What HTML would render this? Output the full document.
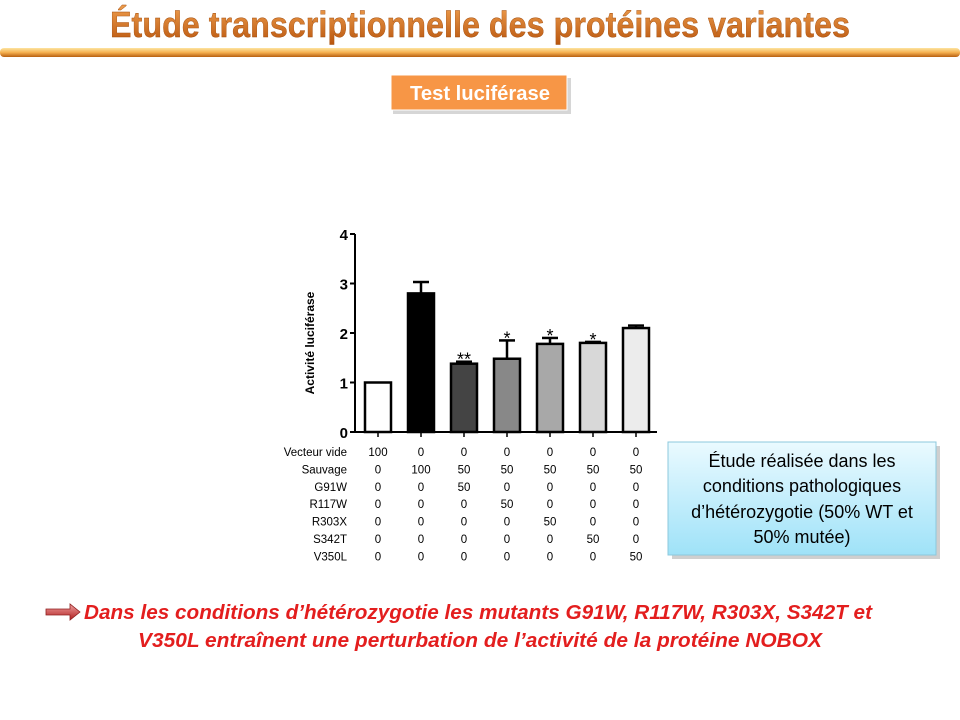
<!DOCTYPE html>
<html><head><meta charset="utf-8"><style>
body{margin:0;background:#fff;}
svg{display:block;font-family:"Liberation Sans",sans-serif;}
</style></head><body>
<svg id="s" width="960" height="720" viewBox="0 0 960 720">
<defs>
<linearGradient id="tg" x1="0" y1="0" x2="0" y2="1"><stop offset="0" stop-color="#f0a050"/><stop offset="1" stop-color="#b8540c"/></linearGradient>
<linearGradient id="lg" x1="0" y1="0" x2="0" y2="1"><stop offset="0" stop-color="#fde4a0"/><stop offset="0.5" stop-color="#f5b050"/><stop offset="1" stop-color="#b86010"/></linearGradient>
<linearGradient id="bg" x1="0" y1="0" x2="0" y2="1"><stop offset="0" stop-color="#eafaff"/><stop offset="1" stop-color="#9fe2f8"/></linearGradient>
<linearGradient id="ag" x1="0" y1="0" x2="0" y2="1"><stop offset="0" stop-color="#f0a0a0"/><stop offset="1" stop-color="#b02020"/></linearGradient>
</defs>
<text x="110" y="37" textLength="740" lengthAdjust="spacingAndGlyphs" font-size="36" font-weight="bold" fill="url(#tg)" stroke="#a04a0a" stroke-width="0.4">Étude transcriptionnelle des protéines variantes</text>
<rect x="0" y="48" width="960" height="9" rx="4" fill="url(#lg)"/>
<rect x="393" y="78" width="178" height="36" fill="#bbb" opacity="0.6"/>
<rect x="391" y="75" width="176" height="35" fill="#f79646" stroke="#fff" stroke-width="1"/>
<text x="410" y="100" textLength="140" lengthAdjust="spacingAndGlyphs" font-size="20" font-weight="bold" fill="#fff">Test luciférase</text>
<g id="chart"></g>
<rect x="672" y="446" width="268" height="113" fill="#888" opacity="0.4"/>
<rect x="668" y="442" width="268" height="113" fill="url(#bg)" stroke="#8cc8dc"/>
<g font-size="18" text-anchor="middle" fill="#000">
<text x="802" y="467">Étude réalisée dans les</text>
<text x="802" y="492">conditions pathologiques</text>
<text x="802" y="518">d’hétérozygotie (50% WT et</text>
<text x="802" y="543">50% mutée)</text>
</g>
<path d="M46,609 h24 v-5 l10,8 l-10,8 v-5 h-24 z" fill="url(#ag)" stroke="#902020" stroke-width="0.8"/>
<g font-size="20" font-style="italic" font-weight="bold" fill="#e31e1e">
<text x="84" y="619" textLength="788" lengthAdjust="spacingAndGlyphs">Dans les conditions d’hétérozygotie les mutants G91W, R117W, R303X, S342T et</text>
<text x="138" y="647" textLength="684" lengthAdjust="spacingAndGlyphs">V350L entraînent une perturbation de l’activité de la protéine NOBOX</text>
</g>
</svg>
<script>
const categories=["Vecteur vide","WT","G91W","R117W","R303X","S342T","V350L"];
const means=[1.0,2.8,1.38,1.48,1.78,1.8,2.1];
const errs=[0,0.23,0.04,0.37,0.12,0.02,0.05];
const stars=["","","**","*","*","*",""];
const yTicks=[0,1,2,3,4];
const rowLabels=["Vecteur vide","Sauvage","G91W","R117W","R303X","S342T","V350L"];
const table=[[100,0,0,0,0,0,0],[0,100,50,50,50,50,50],[0,0,50,0,0,0,0],[0,0,0,50,0,0,0],[0,0,0,0,50,0,0],[0,0,0,0,0,50,0],[0,0,0,0,0,0,50]];
const fills=["#ffffff","#000000","#444444","#888888","#a8a8a8","#d8d8d8","#ececec"];
const NS="http://www.w3.org/2000/svg";
const g=document.getElementById("chart");
const y0=432,y1=234,xL=355,xR=657;
const ys=v=>y0-(v/4)*(y0-y1);
const xs=i=>378+i*43;
function mk(t,a,p){const e=document.createElementNS(NS,t);for(const k in a)e.setAttribute(k,a[k]);(p||g).appendChild(e);return e;}
const ax=mk("path",{d:`M${xL},${y1} V${y0} H${xR}`,stroke:"#000","stroke-width":2,fill:"none"});


yTicks.forEach(t=>{
  mk("line",{x1:xL-5,x2:xL,y1:ys(t),y2:ys(t),stroke:"#000","stroke-width":2});
  const tx=mk("text",{x:xL-7,y:ys(t)+6,"text-anchor":"end","font-size":15,"font-weight":"bold"});
  tx.textContent=t;
  
  
});
const yt=mk("text",{x:0,y:0,transform:"translate(314,343) rotate(-90)","text-anchor":"middle","font-size":12,"font-weight":"bold"});
yt.textContent="Activité luciférase";


means.forEach((m,i)=>{
  const x=xs(i),w=26;
  mk("line",{x1:x,x2:x,y1:y0,y2:y0+5,stroke:"#000","stroke-width":1.5});
  if(errs[i]>0){
    mk("line",{x1:x,x2:x,y1:ys(m),y2:ys(m+errs[i]),stroke:"#000","stroke-width":2.5});
    mk("line",{x1:x-8,x2:x+8,y1:ys(m+errs[i]),y2:ys(m+errs[i]),stroke:"#000","stroke-width":2.5});
  }
  const b=mk("rect",{x:x-w/2,y:ys(m),width:w,height:y0-ys(m),fill:fills[i],stroke:"#000","stroke-width":2.5});
  
  
  if(stars[i]){
    const s=mk("text",{x:x,y:ys(m+errs[i])+4,"text-anchor":"middle","font-size":18});
    s.textContent=stars[i];
    
    
  }
});
rowLabels.forEach((r,j)=>{
  const yy=456+j*17.4;
  const l=mk("text",{x:347,y:yy,"text-anchor":"end","font-size":11.5});
  l.textContent=r;
  
  
  table[j].forEach((v,i)=>{
    const c=mk("text",{x:xs(i),y:yy,"text-anchor":"middle","font-size":11.5});
    c.textContent=v;
    
    
  });
});
</script>
</body></html>
